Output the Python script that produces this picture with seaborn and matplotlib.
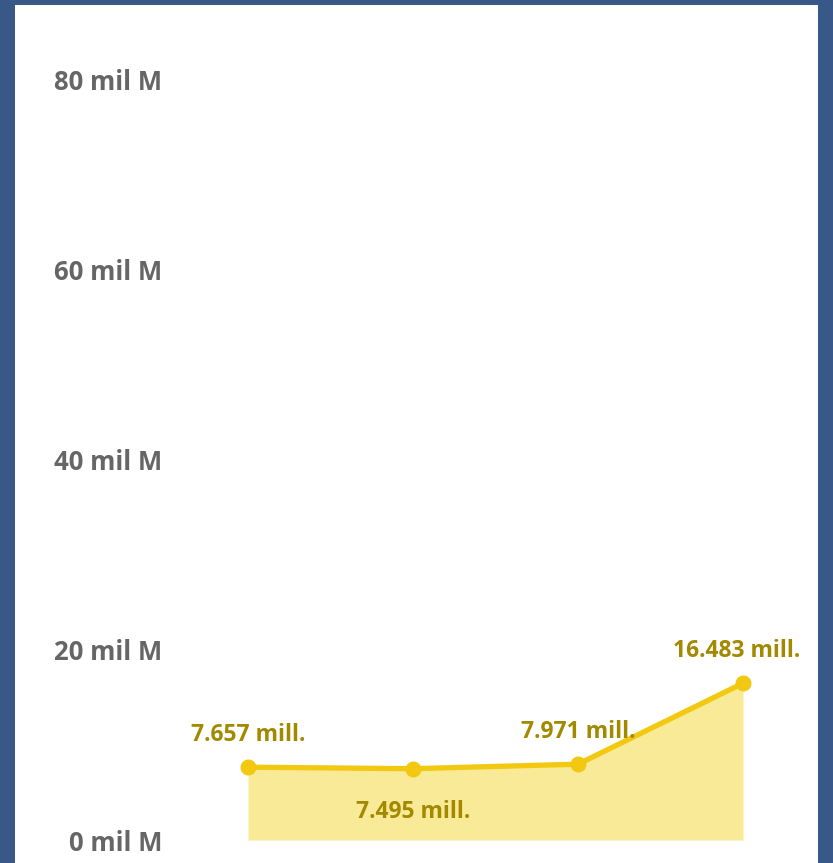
import matplotlib
matplotlib.use("Agg")
import matplotlib.pyplot as plt
import seaborn as sns
import pandas as pd
from matplotlib.patches import Rectangle

categories = ["Q1", "Q2", "Q3", "Q4"]
values = [7.657, 7.495, 7.971, 16.483]
label_texts = ["7.657 mill.", "7.495 mill.", "7.971 mill.", "16.483 mill."]
label_above = [True, False, True, True]
ytick_values = [0, 20, 40, 60, 80]
ytick_labels = ["0 mil M", "20 mil M", "40 mil M", "60 mil M", "80 mil M"]

sns.set_theme(style="white")
plt.rcParams["font.family"] = ["Open Sans", "DejaVu Sans"]

W, H = 833, 863
fig = plt.figure(figsize=(W / 100, H / 100), dpi=100)
fig.patch.set_facecolor("#385887")
bg = Rectangle((15 / W, 0), (818 - 15) / W, (863 - 5) / H,
               transform=fig.transFigure, facecolor="white",
               edgecolor="none", zorder=-10)
fig.add_artist(bg)

left_px, right_px, bottom_px, top_px = 170, 800, 840, 79
ax = fig.add_axes([left_px / W, (H - bottom_px) / H,
                   (right_px - left_px) / W, (bottom_px - top_px) / H])
ax.set_zorder(5)
ax.set_facecolor("none")
ax.patch.set_alpha(0)

df = pd.DataFrame({"x": list(range(len(categories))), "cat": categories, "v": values})
ax.fill_between(df["x"], 0, df["v"], color="#F9EA98", linewidth=0, zorder=1)
sns.lineplot(data=df, x="x", y="v", ax=ax, color="#F2C811", linewidth=3.8,
             marker="o", markersize=11.5, markeredgewidth=0, zorder=3)

x0 = -(248 - left_px) / 165
x1 = x0 + (right_px - left_px) / 165
ax.set_xlim(x0, x1)
ax.set_ylim(0, 80)

n = len(values)
for i, (v, t, up) in enumerate(zip(values, label_texts, label_above)):
    dx = -4.5 if i == n - 1 else 0
    ax.annotate(t, (i, v), xytext=(dx, 23 if up else -31), textcoords="offset points",
                ha="center", va="center", color="#A38900", fontsize=16.5,
                fontweight="bold", zorder=4)

ax.set_yticks(ytick_values)
ax.set_yticklabels(ytick_labels, fontsize=18.5, fontweight="bold", color="#666666")
ax.tick_params(axis="y", length=0, pad=5.5)
ax.set_xticks([])
ax.set_xlabel("")
ax.set_ylabel("")
for s in ax.spines.values():
    s.set_visible(False)

fig.savefig("out.png", dpi=100, facecolor=fig.get_facecolor())
